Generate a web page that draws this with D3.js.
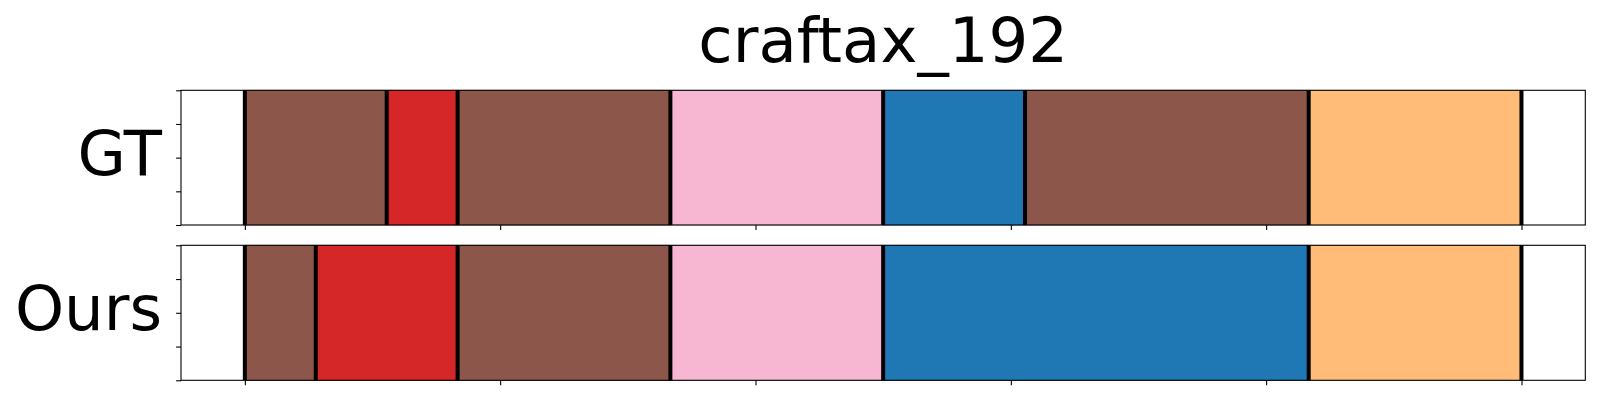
<!DOCTYPE html>
<html>
<head>
<meta charset="utf-8">
<script src="https://cdn.jsdelivr.net/npm/d3@7"></script>
<style>
  html, body { margin: 0; padding: 0; background: #fff; }
  svg { display: block; }
  text { font-family: "DejaVu Sans", sans-serif; fill: #000; }
</style>
</head>
<body>
<svg id="chart" width="1600" height="400"></svg>
<script>
// ---- data ----
const title = "craftax_192";
const rowNames = ["GT", "Ours"];
const totalSteps = 18;
// segment boundaries (in steps) and class ids per segment
const gtBounds = [0, 2, 3, 6, 9, 11, 15, 18];
const gtClasses = [10, 6, 10, 13, 0, 10, 3];
const oursBounds = [0, 1, 3, 6, 9, 15, 18];
const oursClasses = [10, 6, 10, 13, 0, 3];
const xTicks = [0, 0.2, 0.4, 0.6, 0.8, 1.0];
const yTicks = [0, 0.25, 0.5, 0.75, 1.0];

// ---- style ----
const tab20 = ["#1f77b4","#aec7e8","#ff7f0e","#ffbb78","#2ca02c","#98df8a","#d62728","#ff9896",
               "#9467bd","#c5b0d5","#8c564b","#c49c94","#e377c2","#f7b6d2","#7f7f7f","#c7c7c7",
               "#bcbd22","#dbdb8d","#17becf","#9edae5"];
const color = d3.scaleOrdinal().domain(d3.range(20)).range(tab20);

const svg = d3.select("#chart");
const left = 181, right = 1585.3;
const panels = [
  { name: rowNames[0], bounds: gtBounds, classes: gtClasses, top: 90.3, bottom: 225 },
  { name: rowNames[1], bounds: oursBounds, classes: oursClasses, top: 245.3, bottom: 380.3 }
];

// x: normalized time with matplotlib-like 5% margins
const x = d3.scaleLinear().domain([-0.05, 1.05]).range([left, right]);

svg.append("text")
  .attr("x", (left + right) / 2)
  .attr("y", 62.3)
  .attr("text-anchor", "middle")
  .style("font-size", "62.5px")
  .text(title);

panels.forEach(p => {
  const y = d3.scaleLinear().domain([0, 1]).range([p.bottom, p.top]);
  const g = svg.append("g");
  const segs = p.classes.map((c, i) => ({
    x0: p.bounds[i] / totalSteps, x1: p.bounds[i + 1] / totalSteps, c
  }));

  g.append("rect").attr("x", left).attr("y", p.top)
    .attr("width", right - left).attr("height", p.bottom - p.top).attr("fill", "#fff");

  g.selectAll("rect.seg").data(segs).enter().append("rect")
    .attr("class", "seg")
    .attr("x", d => x(d.x0))
    .attr("width", d => x(d.x1) - x(d.x0))
    .attr("y", y(1))
    .attr("height", y(0) - y(1))
    .attr("fill", d => color(d.c))
    .attr("stroke", d => d3.color(color(d.c)).darker(0.3))
    .attr("stroke-width", 0.8);

  g.selectAll("line.bound").data(p.bounds).enter().append("line")
    .attr("class", "bound")
    .attr("x1", d => x(d / totalSteps)).attr("x2", d => x(d / totalSteps))
    .attr("y1", y(0)).attr("y2", y(1))
    .attr("stroke", "#000").attr("stroke-width", 4);

  const xAxis = d3.axisBottom(x).tickValues(xTicks).tickSize(4.9).tickFormat("");
  const gx = g.append("g").attr("transform", `translate(0,${p.bottom})`).call(xAxis);
  gx.select(".domain").remove();
  gx.selectAll("line").attr("stroke", "#000").attr("stroke-width", 1.1);

  const yAxis = d3.axisLeft(y).tickValues(yTicks).tickSize(4.9).tickFormat("");
  const gy = g.append("g").attr("transform", `translate(${left},0)`).call(yAxis);
  gy.select(".domain").remove();
  gy.selectAll("line").attr("stroke", "#000").attr("stroke-width", 1.1);

  g.append("rect").attr("x", left).attr("y", p.top)
    .attr("width", right - left).attr("height", p.bottom - p.top)
    .attr("fill", "none").attr("stroke", "#000").attr("stroke-width", 1.1);

  g.append("text")
    .attr("x", 162)
    .attr("y", (p.top + p.bottom) / 2 + 17.5)
    .attr("text-anchor", "end")
    .style("font-size", "62.5px")
    .text(p.name);
});
</script>
</body>
</html>
